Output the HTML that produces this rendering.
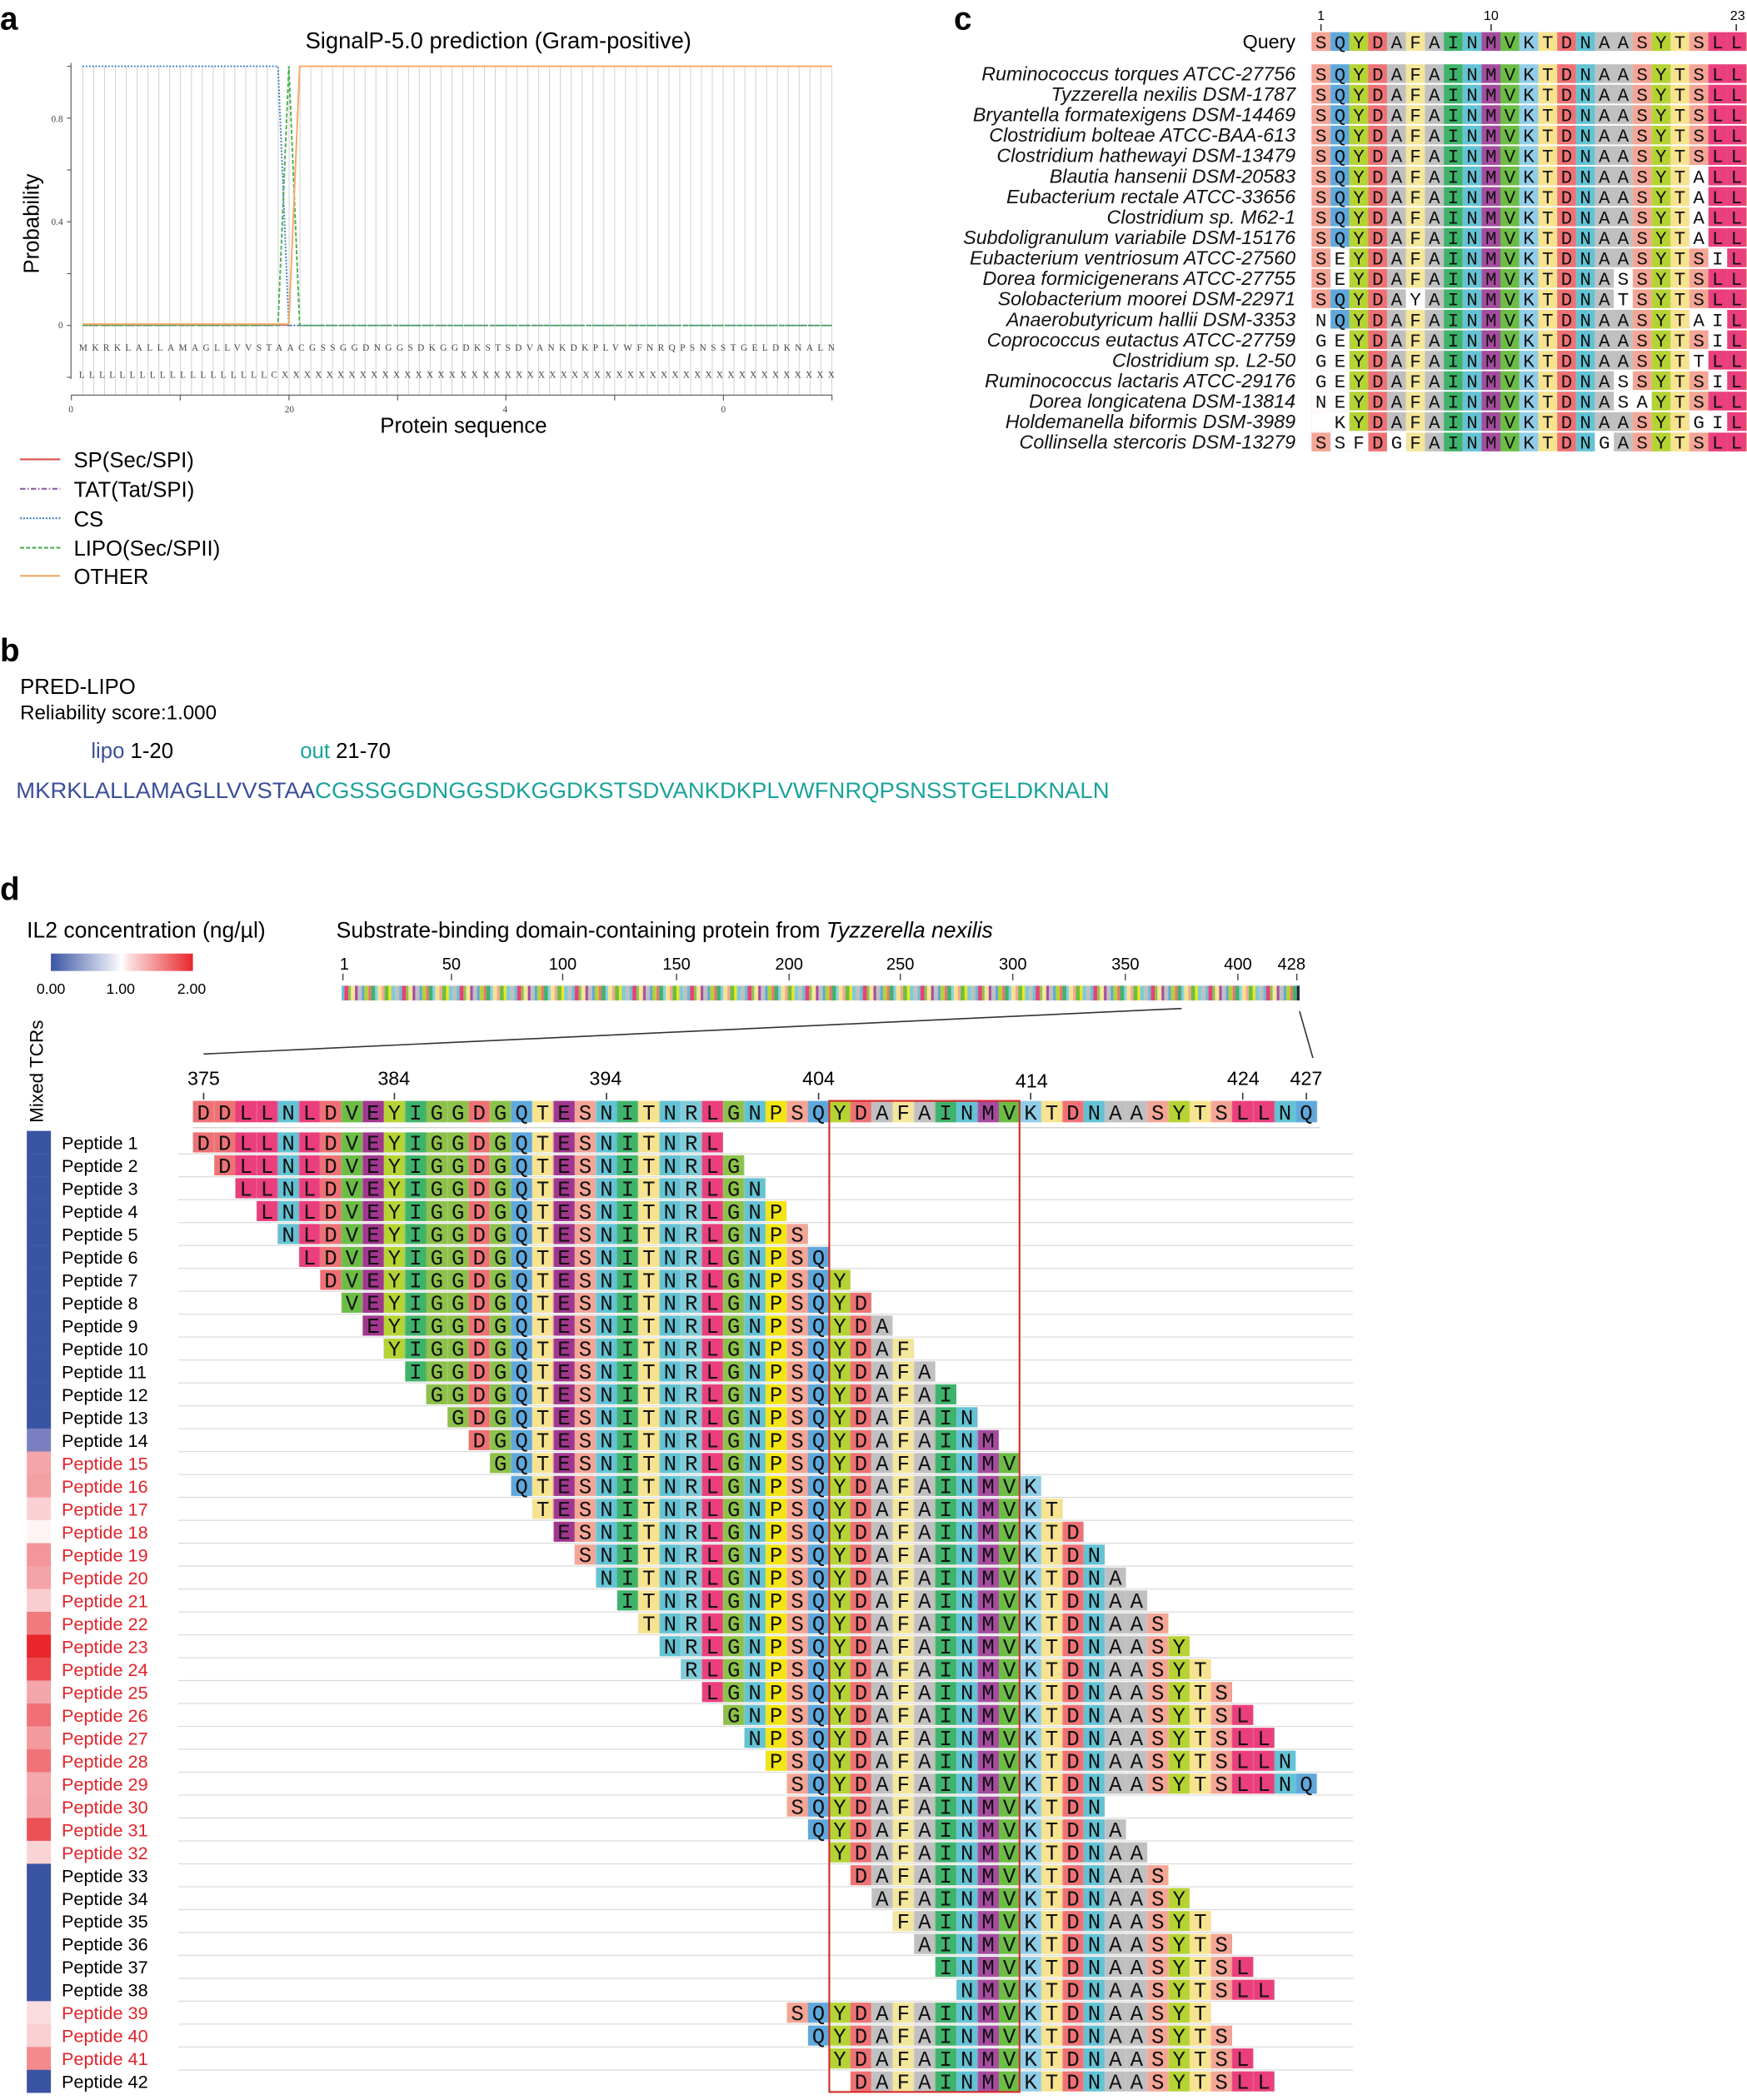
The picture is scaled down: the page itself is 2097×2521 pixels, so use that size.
<!DOCTYPE html>
<html><head><meta charset="utf-8">
<style>
html,body{margin:0;padding:0;background:#fff;}
svg{display:block;}
.n{font-family:"Liberation Sans Narrow","Liberation Sans",sans-serif;}
.s{font-family:"Liberation Sans",sans-serif;}
.sq{font-family:"Liberation Mono",monospace;font-size:16px;letter-spacing:6.23px;fill:#111;}
.cq{font-family:"Liberation Mono",monospace;font-size:14px;letter-spacing:5.7px;fill:#111;}
.pl{font-family:"Liberation Sans",sans-serif;font-size:13.5px;fill:#000;}
.rd{fill:#e0242b;}
.sp{stroke:#dcdcdc;stroke-width:0.8;}
.nm{font-family:"Liberation Sans Narrow","Liberation Sans",sans-serif;font-style:italic;font-size:14.5px;text-anchor:end;fill:#111;}
.tk{font-family:"Liberation Serif",serif;font-size:7px;fill:#444;}
</style></head><body>
<svg width="2097" height="2521" viewBox="0 0 1304 1568" preserveAspectRatio="none" xmlns="http://www.w3.org/2000/svg">
<defs>
<pattern id="V" patternUnits="userSpaceOnUse" x="61.6" y="0" width="8.1" height="2000"><rect x="0" y="0" width="0.6" height="2000" fill="#cfcfcf"/></pattern>
<pattern id="P" patternUnits="userSpaceOnUse" x="144" y="-1000" width="839.2" height="3000">
<g transform="translate(0,0)">
<rect x="0" width="15.9" height="3000" fill="#ee7275"/><rect x="15.83" width="15.9" height="3000" fill="#ee7275"/><rect x="31.66" width="15.9" height="3000" fill="#ea3f7c"/><rect x="47.49" width="15.9" height="3000" fill="#ea3f7c"/><rect x="63.32" width="15.9" height="3000" fill="#63c3d4"/><rect x="79.15" width="15.9" height="3000" fill="#ea3f7c"/><rect x="94.98" width="15.9" height="3000" fill="#ee7275"/><rect x="110.81" width="15.9" height="3000" fill="#6cbd45"/><rect x="126.64" width="15.9" height="3000" fill="#a1368f"/><rect x="142.47" width="15.9" height="3000" fill="#b5d334"/><rect x="158.3" width="15.9" height="3000" fill="#3fb36b"/><rect x="174.13" width="15.9" height="3000" fill="#8dc14a"/><rect x="189.96" width="15.9" height="3000" fill="#8dc14a"/><rect x="205.79" width="15.9" height="3000" fill="#ee7275"/><rect x="221.62" width="15.9" height="3000" fill="#8dc14a"/><rect x="237.45" width="15.9" height="3000" fill="#5fa8dc"/><rect x="253.28" width="15.9" height="3000" fill="#f7e38f"/><rect x="269.11" width="15.9" height="3000" fill="#a1368f"/><rect x="284.94" width="15.9" height="3000" fill="#f4a596"/><rect x="300.77" width="15.9" height="3000" fill="#63c3d4"/><rect x="316.6" width="15.9" height="3000" fill="#3fb36b"/><rect x="332.43" width="15.9" height="3000" fill="#f7e38f"/><rect x="348.26" width="15.9" height="3000" fill="#63c3d4"/><rect x="364.09" width="15.9" height="3000" fill="#7fcbd8"/><rect x="379.92" width="15.9" height="3000" fill="#ea3f7c"/><rect x="395.75" width="15.9" height="3000" fill="#8dc14a"/><rect x="411.58" width="15.9" height="3000" fill="#63c3d4"/><rect x="427.41" width="15.9" height="3000" fill="#f2e513"/><rect x="443.24" width="15.9" height="3000" fill="#f4a596"/><rect x="459.07" width="15.9" height="3000" fill="#5fa8dc"/><rect x="474.9" width="15.9" height="3000" fill="#b5d334"/><rect x="490.73" width="15.9" height="3000" fill="#ee7275"/><rect x="506.56" width="15.9" height="3000" fill="#c0c0c0"/><rect x="522.39" width="15.9" height="3000" fill="#f4e69a"/><rect x="538.22" width="15.9" height="3000" fill="#c0c0c0"/><rect x="554.05" width="15.9" height="3000" fill="#3fb36b"/><rect x="569.88" width="15.9" height="3000" fill="#63c3d4"/><rect x="585.71" width="15.9" height="3000" fill="#a54c9f"/><rect x="601.54" width="15.9" height="3000" fill="#6cbd45"/><rect x="617.37" width="15.9" height="3000" fill="#8fcde8"/><rect x="633.2" width="15.9" height="3000" fill="#f7e38f"/><rect x="649.03" width="15.9" height="3000" fill="#ee7275"/><rect x="664.86" width="15.9" height="3000" fill="#63c3d4"/><rect x="680.69" width="15.9" height="3000" fill="#c0c0c0"/><rect x="696.52" width="15.9" height="3000" fill="#c0c0c0"/><rect x="712.35" width="15.9" height="3000" fill="#f4a596"/><rect x="728.18" width="15.9" height="3000" fill="#b5d334"/><rect x="744.01" width="15.9" height="3000" fill="#f7e38f"/><rect x="759.84" width="15.9" height="3000" fill="#f4a596"/><rect x="775.67" width="15.9" height="3000" fill="#ea3f7c"/><rect x="791.5" width="15.9" height="3000" fill="#ea3f7c"/><rect x="807.33" width="15.9" height="3000" fill="#63c3d4"/><rect x="823.16" width="15.9" height="3000" fill="#5fa8dc"/>
</g></pattern>
<pattern id="C" patternUnits="userSpaceOnUse" x="979" y="-1000" width="324.3" height="3000">
<rect x="0" width="14.2" height="3000" fill="#f4a596"/><rect x="14.1" width="14.2" height="3000" fill="#5fa8dc"/><rect x="28.2" width="14.2" height="3000" fill="#b5d334"/><rect x="42.3" width="14.2" height="3000" fill="#ee7275"/><rect x="56.4" width="14.2" height="3000" fill="#c0c0c0"/><rect x="70.5" width="14.2" height="3000" fill="#f4e69a"/><rect x="84.6" width="14.2" height="3000" fill="#c0c0c0"/><rect x="98.7" width="14.2" height="3000" fill="#3fb36b"/><rect x="112.8" width="14.2" height="3000" fill="#63c3d4"/><rect x="126.9" width="14.2" height="3000" fill="#a54c9f"/><rect x="141" width="14.2" height="3000" fill="#6cbd45"/><rect x="155.1" width="14.2" height="3000" fill="#8fcde8"/><rect x="169.2" width="14.2" height="3000" fill="#f7e38f"/><rect x="183.3" width="14.2" height="3000" fill="#ee7275"/><rect x="197.4" width="14.2" height="3000" fill="#63c3d4"/><rect x="211.5" width="14.2" height="3000" fill="#c0c0c0"/><rect x="225.6" width="14.2" height="3000" fill="#c0c0c0"/><rect x="239.7" width="14.2" height="3000" fill="#f4a596"/><rect x="253.8" width="14.2" height="3000" fill="#b5d334"/><rect x="267.9" width="14.2" height="3000" fill="#f7e38f"/><rect x="282" width="14.2" height="3000" fill="#f4a596"/><rect x="296.1" width="14.2" height="3000" fill="#ea3f7c"/><rect x="310.2" width="14.2" height="3000" fill="#ea3f7c"/>
</pattern>
<pattern id="O" patternUnits="userSpaceOnUse" x="255" y="0" width="43" height="2000">
<rect x="0" width="2" height="2000" fill="#63c3d4"/><rect x="2" width="3" height="2000" fill="#ea3f7c"/><rect x="5" width="2" height="2000" fill="#8dc14a"/><rect x="7" width="3" height="2000" fill="#f4e69a"/><rect x="10" width="2" height="2000" fill="#a54c9f"/><rect x="12" width="3" height="2000" fill="#c0c0c0"/><rect x="15" width="2" height="2000" fill="#5fa8dc"/><rect x="17" width="3" height="2000" fill="#b5d334"/><rect x="20" width="2" height="2000" fill="#ee7275"/><rect x="22" width="3" height="2000" fill="#3fb36b"/><rect x="25" width="2" height="2000" fill="#8fcde8"/><rect x="27" width="3" height="2000" fill="#f7e38f"/><rect x="30" width="2" height="2000" fill="#f4a596"/><rect x="32" width="3" height="2000" fill="#6cbd45"/><rect x="35" width="2" height="2000" fill="#f2e513"/><rect x="37" width="3" height="2000" fill="#7fcbd8"/><rect x="40" width="3" height="2000" fill="#c0c0c0"/>
</pattern>
<linearGradient id="HG" x1="0" x2="1" y1="0" y2="0"><stop offset="0" stop-color="#3a54a4"/><stop offset="0.5" stop-color="#ffffff"/><stop offset="0.55" stop-color="#fbe0e1"/><stop offset="1" stop-color="#e8262b"/></linearGradient>
</defs>
<rect width="1304" height="1568" fill="#fff"/>

<!-- ===== Panel a ===== -->
<text x="0" y="22" class="s" font-size="24" font-weight="bold">a</text>
<text x="372" y="36" class="n" font-size="17" text-anchor="middle">SignalP-5.0 prediction (Gram-positive)</text>
<rect x="61.3" y="49" width="561" height="246" fill="url(#V)"/>
<line x1="53" y1="47" x2="53" y2="283" stroke="#555" stroke-width="0.7"/>
<g stroke="#555" stroke-width="0.7">
<line x1="50" y1="49.5" x2="53" y2="49.5"/><line x1="50" y1="88.2" x2="53" y2="88.2"/><line x1="50" y1="126.9" x2="53" y2="126.9"/><line x1="50" y1="165.6" x2="53" y2="165.6"/><line x1="50" y1="204.3" x2="53" y2="204.3"/><line x1="50" y1="243" x2="53" y2="243"/><line x1="50" y1="281.7" x2="53" y2="281.7"/>
<line x1="53" y1="295" x2="621" y2="295"/>
<line x1="53.3" y1="295" x2="53.3" y2="299"/><line x1="134.5" y1="295" x2="134.5" y2="299"/><line x1="215.7" y1="295" x2="215.7" y2="299"/><line x1="296.8" y1="295" x2="296.8" y2="299"/><line x1="377.6" y1="295" x2="377.6" y2="299"/><line x1="458.8" y1="295" x2="458.8" y2="299"/><line x1="540" y1="295" x2="540" y2="299"/><line x1="621" y1="295" x2="621" y2="299"/>
</g>
<text class="tk" x="47" y="91" text-anchor="end">0.8</text>
<text class="tk" x="47" y="168" text-anchor="end">0.4</text>
<text class="tk" x="47" y="245" text-anchor="end">0</text>
<text class="tk" x="53" y="308" text-anchor="middle">0</text>
<text class="tk" x="216" y="308" text-anchor="middle">20</text>
<text class="tk" x="377" y="308" text-anchor="middle">4</text>
<text class="tk" x="540" y="308" text-anchor="middle">0</text>
<text class="tk" x="59" y="262" font-size="6" textLength="564" lengthAdjust="spacing">MKRKLALLAMAGLLVVSTAACGSSGGDNGGSDKGGDKSTSDVANKDKPLVWFNRQPSNSSTGELDKNALN</text>
<text class="tk" x="59" y="282" font-size="6" textLength="564" lengthAdjust="spacing">LLLLLLLLLLLLLLLLLLLCXXXXXXXXXXXXXXXXXXXXXXXXXXXXXXXXXXXXXXXXXXXXXXXXXX</text>
<text class="s" font-size="16" transform="translate(29,167) rotate(-90)" text-anchor="middle">Probability</text>
<text class="s" font-size="16" x="346" y="323" text-anchor="middle">Protein sequence</text>
<polyline points="61.6,242.5 215.6,242.5" fill="none" stroke="#d9534f" stroke-width="1.2"/>
<polyline points="61.6,243 621,243" fill="none" stroke="#8e5ea2" stroke-width="0.8" stroke-dasharray="4,1.5,1,1.5"/>
<polyline points="61.6,49.5 207.5,49.5 215.6,243 621,243" fill="none" stroke="#3b7dc4" stroke-width="1.2" stroke-dasharray="1.2,1.2"/>
<polyline points="61.6,243 207.5,243 215.6,49.5 223.7,243 621,243" fill="none" stroke="#4caf50" stroke-width="1.2" stroke-dasharray="3,1.5"/>
<polyline points="61.6,242 215.6,242 223.7,49.5 621,49.5" fill="none" stroke="#f4a964" stroke-width="1.2"/>
<line x1="15" y1="343" x2="45" y2="343" stroke="#d9534f" stroke-width="1.3"/>
<line x1="15" y1="365" x2="45" y2="365" stroke="#8e5ea2" stroke-width="1.3" stroke-dasharray="4,1.5,1,1.5"/>
<line x1="15" y1="387" x2="45" y2="387" stroke="#3b7dc4" stroke-width="1.3" stroke-dasharray="1.2,1.2"/>
<line x1="15" y1="409" x2="45" y2="409" stroke="#4caf50" stroke-width="1.3" stroke-dasharray="3,1.5"/>
<line x1="15" y1="430" x2="45" y2="430" stroke="#f4a964" stroke-width="1.3"/>
<g class="n" font-size="16">
<text x="55" y="349">SP(Sec/SPI)</text>
<text x="55" y="371">TAT(Tat/SPI)</text>
<text x="55" y="393">CS</text>
<text x="55" y="415">LIPO(Sec/SPII)</text>
<text x="55" y="436">OTHER</text>
</g>

<!-- ===== Panel b ===== -->
<text x="0" y="494" class="s" font-size="24" font-weight="bold">b</text>
<text x="15" y="518" class="n" font-size="16">PRED-LIPO</text>
<text x="15" y="537" class="n" font-size="15">Reliability score:1.000</text>
<text x="68" y="566" class="n" font-size="16"><tspan fill="#3b4f9a">lipo</tspan> 1-20</text>
<text x="224" y="566" class="n" font-size="16"><tspan fill="#1aa39a">out</tspan>  21-70</text>
<text x="12" y="596" class="n" font-size="16.5" textLength="816" lengthAdjust="spacingAndGlyphs"><tspan fill="#3b4f9a">MKRKLALLAMAGLLVVSTAA</tspan><tspan fill="#1aa39a">CGSSGGDNGGSDKGGDKSTSDVANKDKPLVWFNRQPSNSSTGELDKNALN</tspan></text>

<!-- ===== Panel c ===== -->
<text x="712" y="22" class="s" font-size="24" font-weight="bold">c</text>
<g class="n" font-size="10" text-anchor="middle"><text x="986" y="15">1</text><text x="1113" y="15">10</text><text x="1297" y="15">23</text></g>
<g stroke="#333" stroke-width="1"><line x1="986" y1="18" x2="986" y2="23"/><line x1="1113" y1="18" x2="1113" y2="23"/><line x1="1296" y1="18" x2="1296" y2="23"/></g>
<g transform="translate(0,31)"><text class="n" font-size="14.5" x="967" y="5" text-anchor="end">Query</text><rect x="979" y="-7" width="325" height="14" fill="url(#C)"/><text class="cq" x="981.85" y="5">SQYDAFAINMVKTDNAASYTSLL</text></g>
<g transform="translate(0,55)"><text class="nm" x="967" y="5">Ruminococcus torques ATCC-27756</text><rect x="979" y="-7" width="325" height="14" fill="url(#C)"/><text class="cq" x="981.85" y="5">SQYDAFAINMVKTDNAASYTSLL</text></g>
<g transform="translate(0,70.28)"><text class="nm" x="967" y="5">Tyzzerella nexilis DSM-1787</text><rect x="979" y="-7" width="325" height="14" fill="url(#C)"/><text class="cq" x="981.85" y="5">SQYDAFAINMVKTDNAASYTSLL</text></g>
<g transform="translate(0,85.56)"><text class="nm" x="967" y="5">Bryantella formatexigens DSM-14469</text><rect x="979" y="-7" width="325" height="14" fill="url(#C)"/><text class="cq" x="981.85" y="5">SQYDAFAINMVKTDNAASYTSLL</text></g>
<g transform="translate(0,100.84)"><text class="nm" x="967" y="5">Clostridium bolteae ATCC-BAA-613</text><rect x="979" y="-7" width="325" height="14" fill="url(#C)"/><text class="cq" x="981.85" y="5">SQYDAFAINMVKTDNAASYTSLL</text></g>
<g transform="translate(0,116.12)"><text class="nm" x="967" y="5">Clostridium hathewayi DSM-13479</text><rect x="979" y="-7" width="325" height="14" fill="url(#C)"/><text class="cq" x="981.85" y="5">SQYDAFAINMVKTDNAASYTSLL</text></g>
<g transform="translate(0,131.4)"><text class="nm" x="967" y="5">Blautia hansenii DSM-20583</text><rect x="979" y="-7" width="325" height="14" fill="url(#C)"/><rect x="1261" y="-7" width="14.1" height="14" fill="#fff"/><text class="cq" x="981.85" y="5">SQYDAFAINMVKTDNAASYTALL</text></g>
<g transform="translate(0,146.68)"><text class="nm" x="967" y="5">Eubacterium rectale ATCC-33656</text><rect x="979" y="-7" width="325" height="14" fill="url(#C)"/><rect x="1261" y="-7" width="14.1" height="14" fill="#fff"/><text class="cq" x="981.85" y="5">SQYDAFAINMVKTDNAASYTALL</text></g>
<g transform="translate(0,161.96)"><text class="nm" x="967" y="5">Clostridium sp. M62-1</text><rect x="979" y="-7" width="325" height="14" fill="url(#C)"/><rect x="1261" y="-7" width="14.1" height="14" fill="#fff"/><text class="cq" x="981.85" y="5">SQYDAFAINMVKTDNAASYTALL</text></g>
<g transform="translate(0,177.24)"><text class="nm" x="967" y="5">Subdoligranulum variabile DSM-15176</text><rect x="979" y="-7" width="325" height="14" fill="url(#C)"/><rect x="1261" y="-7" width="14.1" height="14" fill="#fff"/><text class="cq" x="981.85" y="5">SQYDAFAINMVKTDNAASYTALL</text></g>
<g transform="translate(0,192.52)"><text class="nm" x="967" y="5">Eubacterium ventriosum ATCC-27560</text><rect x="979" y="-7" width="325" height="14" fill="url(#C)"/><rect x="993.1" y="-7" width="14.1" height="14" fill="#fff"/><rect x="1275.1" y="-7" width="14.1" height="14" fill="#fff"/><text class="cq" x="981.85" y="5">SEYDAFAINMVKTDNAASYTSIL</text></g>
<g transform="translate(0,207.8)"><text class="nm" x="967" y="5">Dorea formicigenerans ATCC-27755</text><rect x="979" y="-7" width="325" height="14" fill="url(#C)"/><rect x="993.1" y="-7" width="14.1" height="14" fill="#fff"/><rect x="1204.6" y="-7" width="14.1" height="14" fill="#fff"/><text class="cq" x="981.85" y="5">SEYDAFAINMVKTDNASSYTSLL</text></g>
<g transform="translate(0,223.08)"><text class="nm" x="967" y="5">Solobacterium moorei DSM-22971</text><rect x="979" y="-7" width="325" height="14" fill="url(#C)"/><rect x="1049.5" y="-7" width="14.1" height="14" fill="#fff"/><rect x="1204.6" y="-7" width="14.1" height="14" fill="#fff"/><text class="cq" x="981.85" y="5">SQYDAYAINMVKTDNATSYTSLL</text></g>
<g transform="translate(0,238.36)"><text class="nm" x="967" y="5">Anaerobutyricum hallii DSM-3353</text><rect x="979" y="-7" width="325" height="14" fill="url(#C)"/><rect x="979" y="-7" width="14.1" height="14" fill="#fff"/><rect x="1261" y="-7" width="28.2" height="14" fill="#fff"/><text class="cq" x="981.85" y="5">NQYDAFAINMVKTDNAASYTAIL</text></g>
<g transform="translate(0,253.64)"><text class="nm" x="967" y="5">Coprococcus eutactus ATCC-27759</text><rect x="979" y="-7" width="325" height="14" fill="url(#C)"/><rect x="979" y="-7" width="28.2" height="14" fill="#fff"/><rect x="1275.1" y="-7" width="14.1" height="14" fill="#fff"/><text class="cq" x="981.85" y="5">GEYDAFAINMVKTDNAASYTSIL</text></g>
<g transform="translate(0,268.92)"><text class="nm" x="967" y="5">Clostridium sp. L2-50</text><rect x="979" y="-7" width="325" height="14" fill="url(#C)"/><rect x="979" y="-7" width="28.2" height="14" fill="#fff"/><rect x="1261" y="-7" width="14.1" height="14" fill="#fff"/><text class="cq" x="981.85" y="5">GEYDAFAINMVKTDNAASYTTLL</text></g>
<g transform="translate(0,284.2)"><text class="nm" x="967" y="5">Ruminococcus lactaris ATCC-29176</text><rect x="979" y="-7" width="325" height="14" fill="url(#C)"/><rect x="979" y="-7" width="28.2" height="14" fill="#fff"/><rect x="1204.6" y="-7" width="14.1" height="14" fill="#fff"/><rect x="1275.1" y="-7" width="14.1" height="14" fill="#fff"/><text class="cq" x="981.85" y="5">GEYDAFAINMVKTDNASSYTSIL</text></g>
<g transform="translate(0,299.48)"><text class="nm" x="967" y="5">Dorea longicatena DSM-13814</text><rect x="979" y="-7" width="325" height="14" fill="url(#C)"/><rect x="979" y="-7" width="28.2" height="14" fill="#fff"/><rect x="1204.6" y="-7" width="28.2" height="14" fill="#fff"/><text class="cq" x="981.85" y="5">NEYDAFAINMVKTDNASAYTSLL</text></g>
<g transform="translate(0,314.76)"><text class="nm" x="967" y="5">Holdemanella biformis DSM-3989</text><rect x="979" y="-7" width="325" height="14" fill="url(#C)"/><rect x="979" y="-7" width="28.2" height="14" fill="#fff"/><rect x="1261" y="-7" width="28.2" height="14" fill="#fff"/><text class="cq" x="995.95" y="5">KYDAFAINMVKTDNAASYTGIL</text></g>
<g transform="translate(0,330.04)"><text class="nm" x="967" y="5">Collinsella stercoris DSM-13279</text><rect x="979" y="-7" width="325" height="14" fill="url(#C)"/><rect x="993.1" y="-7" width="28.2" height="14" fill="#fff"/><rect x="1035.4" y="-7" width="14.1" height="14" fill="#fff"/><rect x="1190.5" y="-7" width="14.1" height="14" fill="#fff"/><text class="cq" x="981.85" y="5">SSFDGFAINMVKTDNGASYTSLL</text></g>

<!-- ===== Panel d ===== -->
<text x="0" y="672" class="s" font-size="24" font-weight="bold">d</text>
<text x="20" y="700" class="n" font-size="16.5">IL2 concentration (ng/µl)</text>
<rect x="38" y="712" width="106" height="13" fill="url(#HG)"/>
<g class="n" font-size="11" text-anchor="middle"><text x="38" y="742">0.00</text><text x="90" y="742">1.00</text><text x="143" y="742">2.00</text></g>
<text x="251" y="700" class="n" font-size="16.5">Substrate-binding domain-containing protein from <tspan font-style="italic">Tyzzerella nexilis</tspan></text>
<g class="n" font-size="12.5" text-anchor="middle"><text x="257" y="724">1</text><text x="337" y="724">50</text><text x="420" y="724">100</text><text x="505" y="724">150</text><text x="589" y="724">200</text><text x="672" y="724">250</text><text x="756" y="724">300</text><text x="840" y="724">350</text><text x="924" y="724">400</text><text x="964" y="724">428</text></g>
<g stroke="#333" stroke-width="0.8"><line x1="256" y1="727" x2="256" y2="732"/><line x1="337" y1="727" x2="337" y2="732"/><line x1="420" y1="727" x2="420" y2="732"/><line x1="505" y1="727" x2="505" y2="732"/><line x1="589" y1="727" x2="589" y2="732"/><line x1="672" y1="727" x2="672" y2="732"/><line x1="756" y1="727" x2="756" y2="732"/><line x1="840" y1="727" x2="840" y2="732"/><line x1="924" y1="727" x2="924" y2="732"/><line x1="968" y1="727" x2="968" y2="732"/></g>
<rect x="255" y="736" width="715" height="11" fill="url(#O)"/>
<rect x="968" y="736" width="2" height="11" fill="#223"/>
<line x1="152" y1="787" x2="882" y2="753" stroke="#333" stroke-width="1"/>
<line x1="970" y1="755" x2="980" y2="790" stroke="#333" stroke-width="1"/>
<text class="s" font-size="14" transform="translate(32,800) rotate(-90)" text-anchor="middle">Mixed TCRs</text>
<g class="n" font-size="14.5" text-anchor="middle"><text x="152" y="810">375</text><text x="294" y="810">384</text><text x="452" y="810">394</text><text x="611" y="810">404</text><text x="770" y="812">414</text><text x="928" y="810">424</text><text x="975" y="810">427</text></g>
<g stroke="#333" stroke-width="1"><line x1="152" y1="816" x2="152" y2="821"/><line x1="294.4" y1="816" x2="294.4" y2="821"/><line x1="452.7" y1="816" x2="452.7" y2="821"/><line x1="611" y1="816" x2="611" y2="821"/><line x1="769.3" y1="816" x2="769.3" y2="821"/><line x1="927.6" y1="816" x2="927.6" y2="821"/><line x1="975.1" y1="816" x2="975.1" y2="821"/></g>
<rect x="144" y="822" width="839.2" height="16" fill="url(#P)"/>
<text class="sq" x="147.1" y="836">DDLLNLDVEYIGGDGQTESNITNRLGNPSQYDAFAINMVKTDNAASYTSLLNQ</text>
<line x1="144" y1="842" x2="985" y2="842" stroke="#ccc" stroke-width="0.8"/>

<g transform="translate(0,853)"><rect x="20" y="-8.6" width="18" height="17.2" fill="#3a54a4"/><text class="pl" x="46" y="5">Peptide 1</text><line class="sp" x1="133" x2="1010" y1="8.55" y2="8.55"/><rect x="144" y="-7.5" width="395.75" height="15" fill="url(#P)"/><text class="sq" x="147.1" y="5.5">DDLLNLDVEYIGGDGQTESNITNRL</text></g>
<g transform="translate(0,870.1)"><rect x="20" y="-8.6" width="18" height="17.2" fill="#3a54a4"/><text class="pl" x="46" y="5">Peptide 2</text><line class="sp" x1="133" x2="1010" y1="8.55" y2="8.55"/><rect x="159.83" y="-7.5" width="395.75" height="15" fill="url(#P)"/><text class="sq" x="162.93" y="5.5">DLLNLDVEYIGGDGQTESNITNRLG</text></g>
<g transform="translate(0,887.2)"><rect x="20" y="-8.6" width="18" height="17.2" fill="#3a54a4"/><text class="pl" x="46" y="5">Peptide 3</text><line class="sp" x1="133" x2="1010" y1="8.55" y2="8.55"/><rect x="175.66" y="-7.5" width="395.75" height="15" fill="url(#P)"/><text class="sq" x="178.76" y="5.5">LLNLDVEYIGGDGQTESNITNRLGN</text></g>
<g transform="translate(0,904.3)"><rect x="20" y="-8.6" width="18" height="17.2" fill="#3a54a4"/><text class="pl" x="46" y="5">Peptide 4</text><line class="sp" x1="133" x2="1010" y1="8.55" y2="8.55"/><rect x="191.49" y="-7.5" width="395.75" height="15" fill="url(#P)"/><text class="sq" x="194.59" y="5.5">LNLDVEYIGGDGQTESNITNRLGNP</text></g>
<g transform="translate(0,921.4)"><rect x="20" y="-8.6" width="18" height="17.2" fill="#3a54a4"/><text class="pl" x="46" y="5">Peptide 5</text><line class="sp" x1="133" x2="1010" y1="8.55" y2="8.55"/><rect x="207.32" y="-7.5" width="395.75" height="15" fill="url(#P)"/><text class="sq" x="210.42" y="5.5">NLDVEYIGGDGQTESNITNRLGNPS</text></g>
<g transform="translate(0,938.5)"><rect x="20" y="-8.6" width="18" height="17.2" fill="#3a54a4"/><text class="pl" x="46" y="5">Peptide 6</text><line class="sp" x1="133" x2="1010" y1="8.55" y2="8.55"/><rect x="223.15" y="-7.5" width="395.75" height="15" fill="url(#P)"/><text class="sq" x="226.25" y="5.5">LDVEYIGGDGQTESNITNRLGNPSQ</text></g>
<g transform="translate(0,955.6)"><rect x="20" y="-8.6" width="18" height="17.2" fill="#3a54a4"/><text class="pl" x="46" y="5">Peptide 7</text><line class="sp" x1="133" x2="1010" y1="8.55" y2="8.55"/><rect x="238.98" y="-7.5" width="395.75" height="15" fill="url(#P)"/><text class="sq" x="242.08" y="5.5">DVEYIGGDGQTESNITNRLGNPSQY</text></g>
<g transform="translate(0,972.7)"><rect x="20" y="-8.6" width="18" height="17.2" fill="#3a54a4"/><text class="pl" x="46" y="5">Peptide 8</text><line class="sp" x1="133" x2="1010" y1="8.55" y2="8.55"/><rect x="254.81" y="-7.5" width="395.75" height="15" fill="url(#P)"/><text class="sq" x="257.91" y="5.5">VEYIGGDGQTESNITNRLGNPSQYD</text></g>
<g transform="translate(0,989.8)"><rect x="20" y="-8.6" width="18" height="17.2" fill="#3a54a4"/><text class="pl" x="46" y="5">Peptide 9</text><line class="sp" x1="133" x2="1010" y1="8.55" y2="8.55"/><rect x="270.64" y="-7.5" width="395.75" height="15" fill="url(#P)"/><text class="sq" x="273.74" y="5.5">EYIGGDGQTESNITNRLGNPSQYDA</text></g>
<g transform="translate(0,1006.9)"><rect x="20" y="-8.6" width="18" height="17.2" fill="#3a54a4"/><text class="pl" x="46" y="5">Peptide 10</text><line class="sp" x1="133" x2="1010" y1="8.55" y2="8.55"/><rect x="286.47" y="-7.5" width="395.75" height="15" fill="url(#P)"/><text class="sq" x="289.57" y="5.5">YIGGDGQTESNITNRLGNPSQYDAF</text></g>
<g transform="translate(0,1024)"><rect x="20" y="-8.6" width="18" height="17.2" fill="#3a54a4"/><text class="pl" x="46" y="5">Peptide 11</text><line class="sp" x1="133" x2="1010" y1="8.55" y2="8.55"/><rect x="302.3" y="-7.5" width="395.75" height="15" fill="url(#P)"/><text class="sq" x="305.4" y="5.5">IGGDGQTESNITNRLGNPSQYDAFA</text></g>
<g transform="translate(0,1041.1)"><rect x="20" y="-8.6" width="18" height="17.2" fill="#3a54a4"/><text class="pl" x="46" y="5">Peptide 12</text><line class="sp" x1="133" x2="1010" y1="8.55" y2="8.55"/><rect x="318.13" y="-7.5" width="395.75" height="15" fill="url(#P)"/><text class="sq" x="321.23" y="5.5">GGDGQTESNITNRLGNPSQYDAFAI</text></g>
<g transform="translate(0,1058.2)"><rect x="20" y="-8.6" width="18" height="17.2" fill="#3a54a4"/><text class="pl" x="46" y="5">Peptide 13</text><line class="sp" x1="133" x2="1010" y1="8.55" y2="8.55"/><rect x="333.96" y="-7.5" width="395.75" height="15" fill="url(#P)"/><text class="sq" x="337.06" y="5.5">GDGQTESNITNRLGNPSQYDAFAIN</text></g>
<g transform="translate(0,1075.3)"><rect x="20" y="-8.6" width="18" height="17.2" fill="#7a7fbf"/><text class="pl" x="46" y="5">Peptide 14</text><line class="sp" x1="133" x2="1010" y1="8.55" y2="8.55"/><rect x="349.79" y="-7.5" width="395.75" height="15" fill="url(#P)"/><text class="sq" x="352.89" y="5.5">DGQTESNITNRLGNPSQYDAFAINM</text></g>
<g transform="translate(0,1092.4)"><rect x="20" y="-8.6" width="18" height="17.2" fill="#f4a5a9"/><text class="pl rd" x="46" y="5">Peptide 15</text><line class="sp" x1="133" x2="1010" y1="8.55" y2="8.55"/><rect x="365.62" y="-7.5" width="395.75" height="15" fill="url(#P)"/><text class="sq" x="368.72" y="5.5">GQTESNITNRLGNPSQYDAFAINMV</text></g>
<g transform="translate(0,1109.5)"><rect x="20" y="-8.6" width="18" height="17.2" fill="#f3a0a3"/><text class="pl rd" x="46" y="5">Peptide 16</text><line class="sp" x1="133" x2="1010" y1="8.55" y2="8.55"/><rect x="381.45" y="-7.5" width="395.75" height="15" fill="url(#P)"/><text class="sq" x="384.55" y="5.5">QTESNITNRLGNPSQYDAFAINMVK</text></g>
<g transform="translate(0,1126.6)"><rect x="20" y="-8.6" width="18" height="17.2" fill="#f9d0d3"/><text class="pl rd" x="46" y="5">Peptide 17</text><line class="sp" x1="133" x2="1010" y1="8.55" y2="8.55"/><rect x="397.28" y="-7.5" width="395.75" height="15" fill="url(#P)"/><text class="sq" x="400.38" y="5.5">TESNITNRLGNPSQYDAFAINMVKT</text></g>
<g transform="translate(0,1143.7)"><rect x="20" y="-8.6" width="18" height="17.2" fill="#fff5f5"/><text class="pl rd" x="46" y="5">Peptide 18</text><line class="sp" x1="133" x2="1010" y1="8.55" y2="8.55"/><rect x="413.11" y="-7.5" width="395.75" height="15" fill="url(#P)"/><text class="sq" x="416.21" y="5.5">ESNITNRLGNPSQYDAFAINMVKTD</text></g>
<g transform="translate(0,1160.8)"><rect x="20" y="-8.6" width="18" height="17.2" fill="#f39599"/><text class="pl rd" x="46" y="5">Peptide 19</text><line class="sp" x1="133" x2="1010" y1="8.55" y2="8.55"/><rect x="428.94" y="-7.5" width="395.75" height="15" fill="url(#P)"/><text class="sq" x="432.04" y="5.5">SNITNRLGNPSQYDAFAINMVKTDN</text></g>
<g transform="translate(0,1177.9)"><rect x="20" y="-8.6" width="18" height="17.2" fill="#f4a3a7"/><text class="pl rd" x="46" y="5">Peptide 20</text><line class="sp" x1="133" x2="1010" y1="8.55" y2="8.55"/><rect x="444.77" y="-7.5" width="395.75" height="15" fill="url(#P)"/><text class="sq" x="447.87" y="5.5">NITNRLGNPSQYDAFAINMVKTDNA</text></g>
<g transform="translate(0,1195)"><rect x="20" y="-8.6" width="18" height="17.2" fill="#f9ced1"/><text class="pl rd" x="46" y="5">Peptide 21</text><line class="sp" x1="133" x2="1010" y1="8.55" y2="8.55"/><rect x="460.6" y="-7.5" width="395.75" height="15" fill="url(#P)"/><text class="sq" x="463.7" y="5.5">ITNRLGNPSQYDAFAINMVKTDNAA</text></g>
<g transform="translate(0,1212.1)"><rect x="20" y="-8.6" width="18" height="17.2" fill="#f07a7e"/><text class="pl rd" x="46" y="5">Peptide 22</text><line class="sp" x1="133" x2="1010" y1="8.55" y2="8.55"/><rect x="476.43" y="-7.5" width="395.75" height="15" fill="url(#P)"/><text class="sq" x="479.53" y="5.5">TNRLGNPSQYDAFAINMVKTDNAAS</text></g>
<g transform="translate(0,1229.2)"><rect x="20" y="-8.6" width="18" height="17.2" fill="#e8262b"/><text class="pl rd" x="46" y="5">Peptide 23</text><line class="sp" x1="133" x2="1010" y1="8.55" y2="8.55"/><rect x="492.26" y="-7.5" width="395.75" height="15" fill="url(#P)"/><text class="sq" x="495.36" y="5.5">NRLGNPSQYDAFAINMVKTDNAASY</text></g>
<g transform="translate(0,1246.3)"><rect x="20" y="-8.6" width="18" height="17.2" fill="#ec4c51"/><text class="pl rd" x="46" y="5">Peptide 24</text><line class="sp" x1="133" x2="1010" y1="8.55" y2="8.55"/><rect x="508.09" y="-7.5" width="395.75" height="15" fill="url(#P)"/><text class="sq" x="511.19" y="5.5">RLGNPSQYDAFAINMVKTDNAASYT</text></g>
<g transform="translate(0,1263.4)"><rect x="20" y="-8.6" width="18" height="17.2" fill="#f4a7ab"/><text class="pl rd" x="46" y="5">Peptide 25</text><line class="sp" x1="133" x2="1010" y1="8.55" y2="8.55"/><rect x="523.92" y="-7.5" width="395.75" height="15" fill="url(#P)"/><text class="sq" x="527.02" y="5.5">LGNPSQYDAFAINMVKTDNAASYTS</text></g>
<g transform="translate(0,1280.5)"><rect x="20" y="-8.6" width="18" height="17.2" fill="#ef7175"/><text class="pl rd" x="46" y="5">Peptide 26</text><line class="sp" x1="133" x2="1010" y1="8.55" y2="8.55"/><rect x="539.75" y="-7.5" width="395.75" height="15" fill="url(#P)"/><text class="sq" x="542.85" y="5.5">GNPSQYDAFAINMVKTDNAASYTSL</text></g>
<g transform="translate(0,1297.6)"><rect x="20" y="-8.6" width="18" height="17.2" fill="#f39a9e"/><text class="pl rd" x="46" y="5">Peptide 27</text><line class="sp" x1="133" x2="1010" y1="8.55" y2="8.55"/><rect x="555.58" y="-7.5" width="395.75" height="15" fill="url(#P)"/><text class="sq" x="558.68" y="5.5">NPSQYDAFAINMVKTDNAASYTSLL</text></g>
<g transform="translate(0,1314.7)"><rect x="20" y="-8.6" width="18" height="17.2" fill="#ef7377"/><text class="pl rd" x="46" y="5">Peptide 28</text><line class="sp" x1="133" x2="1010" y1="8.55" y2="8.55"/><rect x="571.41" y="-7.5" width="395.75" height="15" fill="url(#P)"/><text class="sq" x="574.51" y="5.5">PSQYDAFAINMVKTDNAASYTSLLN</text></g>
<g transform="translate(0,1331.8)"><rect x="20" y="-8.6" width="18" height="17.2" fill="#f4a8ac"/><text class="pl rd" x="46" y="5">Peptide 29</text><line class="sp" x1="133" x2="1010" y1="8.55" y2="8.55"/><rect x="587.24" y="-7.5" width="395.75" height="15" fill="url(#P)"/><text class="sq" x="590.34" y="5.5">SQYDAFAINMVKTDNAASYTSLLNQ</text></g>
<g transform="translate(0,1348.9)"><rect x="20" y="-8.6" width="18" height="17.2" fill="#f4a3a7"/><text class="pl rd" x="46" y="5">Peptide 30</text><line class="sp" x1="133" x2="1010" y1="8.55" y2="8.55"/><rect x="587.24" y="-7.5" width="237.45" height="15" fill="url(#P)"/><text class="sq" x="590.34" y="5.5">SQYDAFAINMVKTDN</text></g>
<g transform="translate(0,1366)"><rect x="20" y="-8.6" width="18" height="17.2" fill="#ec5156"/><text class="pl rd" x="46" y="5">Peptide 31</text><line class="sp" x1="133" x2="1010" y1="8.55" y2="8.55"/><rect x="603.07" y="-7.5" width="237.45" height="15" fill="url(#P)"/><text class="sq" x="606.17" y="5.5">QYDAFAINMVKTDNA</text></g>
<g transform="translate(0,1383.1)"><rect x="20" y="-8.6" width="18" height="17.2" fill="#f9d3d6"/><text class="pl rd" x="46" y="5">Peptide 32</text><line class="sp" x1="133" x2="1010" y1="8.55" y2="8.55"/><rect x="618.9" y="-7.5" width="237.45" height="15" fill="url(#P)"/><text class="sq" x="622" y="5.5">YDAFAINMVKTDNAA</text></g>
<g transform="translate(0,1400.2)"><rect x="20" y="-8.6" width="18" height="17.2" fill="#3a54a4"/><text class="pl" x="46" y="5">Peptide 33</text><line class="sp" x1="133" x2="1010" y1="8.55" y2="8.55"/><rect x="634.73" y="-7.5" width="237.45" height="15" fill="url(#P)"/><text class="sq" x="637.83" y="5.5">DAFAINMVKTDNAAS</text></g>
<g transform="translate(0,1417.3)"><rect x="20" y="-8.6" width="18" height="17.2" fill="#3a54a4"/><text class="pl" x="46" y="5">Peptide 34</text><line class="sp" x1="133" x2="1010" y1="8.55" y2="8.55"/><rect x="650.56" y="-7.5" width="237.45" height="15" fill="url(#P)"/><text class="sq" x="653.66" y="5.5">AFAINMVKTDNAASY</text></g>
<g transform="translate(0,1434.4)"><rect x="20" y="-8.6" width="18" height="17.2" fill="#3a54a4"/><text class="pl" x="46" y="5">Peptide 35</text><line class="sp" x1="133" x2="1010" y1="8.55" y2="8.55"/><rect x="666.39" y="-7.5" width="237.45" height="15" fill="url(#P)"/><text class="sq" x="669.49" y="5.5">FAINMVKTDNAASYT</text></g>
<g transform="translate(0,1451.5)"><rect x="20" y="-8.6" width="18" height="17.2" fill="#3a54a4"/><text class="pl" x="46" y="5">Peptide 36</text><line class="sp" x1="133" x2="1010" y1="8.55" y2="8.55"/><rect x="682.22" y="-7.5" width="237.45" height="15" fill="url(#P)"/><text class="sq" x="685.32" y="5.5">AINMVKTDNAASYTS</text></g>
<g transform="translate(0,1468.6)"><rect x="20" y="-8.6" width="18" height="17.2" fill="#3a54a4"/><text class="pl" x="46" y="5">Peptide 37</text><line class="sp" x1="133" x2="1010" y1="8.55" y2="8.55"/><rect x="698.05" y="-7.5" width="237.45" height="15" fill="url(#P)"/><text class="sq" x="701.15" y="5.5">INMVKTDNAASYTSL</text></g>
<g transform="translate(0,1485.7)"><rect x="20" y="-8.6" width="18" height="17.2" fill="#3a54a4"/><text class="pl" x="46" y="5">Peptide 38</text><line class="sp" x1="133" x2="1010" y1="8.55" y2="8.55"/><rect x="713.88" y="-7.5" width="237.45" height="15" fill="url(#P)"/><text class="sq" x="716.98" y="5.5">NMVKTDNAASYTSLL</text></g>
<g transform="translate(0,1502.8)"><rect x="20" y="-8.6" width="18" height="17.2" fill="#fbdde0"/><text class="pl rd" x="46" y="5">Peptide 39</text><line class="sp" x1="133" x2="1010" y1="8.55" y2="8.55"/><rect x="587.24" y="-7.5" width="316.6" height="15" fill="url(#P)"/><text class="sq" x="590.34" y="5.5">SQYDAFAINMVKTDNAASYT</text></g>
<g transform="translate(0,1519.9)"><rect x="20" y="-8.6" width="18" height="17.2" fill="#f9cfd2"/><text class="pl rd" x="46" y="5">Peptide 40</text><line class="sp" x1="133" x2="1010" y1="8.55" y2="8.55"/><rect x="603.07" y="-7.5" width="316.6" height="15" fill="url(#P)"/><text class="sq" x="606.17" y="5.5">QYDAFAINMVKTDNAASYTS</text></g>
<g transform="translate(0,1537)"><rect x="20" y="-8.6" width="18" height="17.2" fill="#f28a8e"/><text class="pl rd" x="46" y="5">Peptide 41</text><line class="sp" x1="133" x2="1010" y1="8.55" y2="8.55"/><rect x="618.9" y="-7.5" width="316.6" height="15" fill="url(#P)"/><text class="sq" x="622" y="5.5">YDAFAINMVKTDNAASYTSL</text></g>
<g transform="translate(0,1554.1)"><rect x="20" y="-8.6" width="18" height="17.2" fill="#3a54a4"/><text class="pl" x="46" y="5">Peptide 42</text><rect x="634.73" y="-7.5" width="316.6" height="15" fill="url(#P)"/><text class="sq" x="637.83" y="5.5">DAFAINMVKTDNAASYTSLL</text></g>

<rect x="619" y="822" width="142" height="740" fill="none" stroke="#d62728" stroke-width="1.3"/>
</svg>
</body></html>
